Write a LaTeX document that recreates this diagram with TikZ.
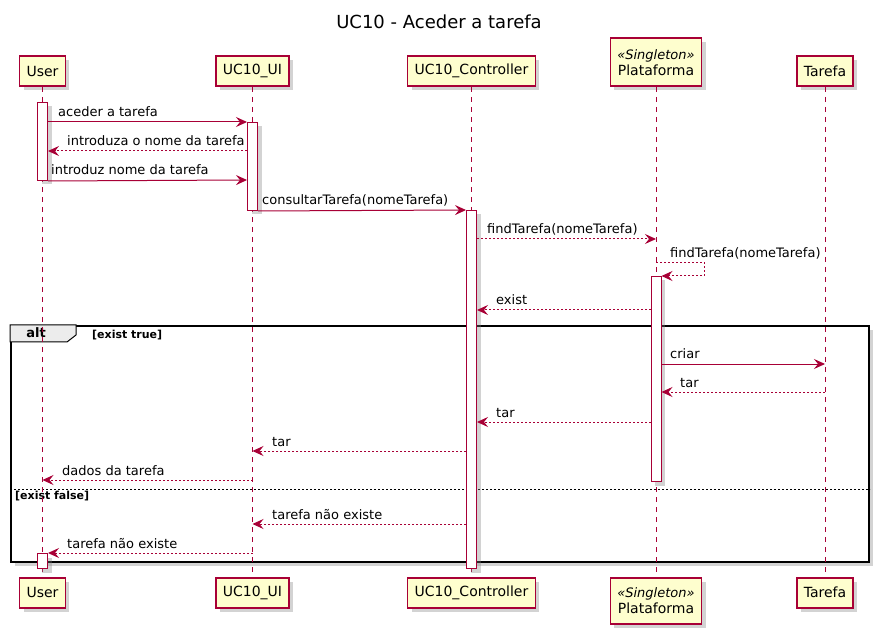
\documentclass[tikz,border=0pt]{standalone}
\usepackage{fontspec}
\setmainfont{DejaVu Sans}
\usepackage{xcolor}
\usetikzlibrary{arrows.meta,shadows}
\definecolor{umlred}{HTML}{A80036}
\definecolor{umlfill}{HTML}{FEFECE}

\begin{document}
\begin{tikzpicture}[x=1pt, y=-1pt,
    shade/.style={drop shadow={shadow xshift=4pt, shadow yshift=-4pt, opacity=0.35}},
    part/.style={rectangle, draw=umlred, line width=1.5pt, fill=umlfill, inner xsep=7pt, minimum height=30pt, font=\fontsize{14}{16}\selectfont, shade},
    act/.style={rectangle, draw=umlred, line width=1pt, fill=white, minimum width=10pt, inner sep=0pt, anchor=north, shade},
    life/.style={draw=umlred, line width=1pt, dash pattern=on 5pt off 5pt},
    msg/.style={draw=umlred, line width=1pt, -{Stealth[length=11pt, width=10pt, inset=4pt]}},
    ret/.style={msg, dash pattern=on 2pt off 2pt},
    lbl/.style={anchor=base west, inner sep=0pt, font=\fontsize{13}{15}\selectfont},
    guard/.style={anchor=base west, inner sep=0pt, font=\bfseries\fontsize{11}{13}\selectfont}
]
    \useasboundingbox (0,0) rectangle (881,636);
    \node[font=\fontsize{18}{20}\selectfont] (title) at (439,22) {UC10 - Aceder a tarefa};

    % alt frame
    \node[rectangle, draw=black, line width=2pt, fill=white, inner sep=0pt, minimum width=858pt, minimum height=236pt, anchor=north west, shade] (alt) at (10,325) {};
    \draw[line width=1pt, fill=gray!15] (alt.north west) -- ++(66,0) -- ++(0,10) -- ++(-9,7) -- ++(-57,0) -- cycle;
    \node[font=\bfseries\fontsize{13}{15}\selectfont] (altname) at (36,333) {alt};
    \node[guard] (g1) at (92,338) {[exist true]};
    \draw[line width=1pt, dash pattern=on 2pt off 2pt] (alt.west |- 0,489) -- (alt.east |- 0,489);
    \node[guard] (g2) at (15,499) {[exist false]};

    % participants
    \node[part, anchor=south] (user) at (42.5,87) {User};
    \node[part, anchor=south] (ui) at (252.5,87) {UC10\_UI};
    \node[part, anchor=south] (ctrl) at (471.5,87) {UC10\_Controller};
    \node[part, anchor=south, align=center, minimum height=48pt] (plat) at (656,87) {{\itshape\fontsize{13}{15}\selectfont «Singleton»}\\Plataforma};
    \node[part, anchor=south] (tar) at (825,87) {Tarefa};

    \node[part, anchor=north] (buser) at (42.5,577) {User};
    \node[part, anchor=north] (bui) at (252.5,577) {UC10\_UI};
    \node[part, anchor=north] (bctrl) at (471.5,577) {UC10\_Controller};
    \node[part, anchor=north, align=center, minimum height=46pt] (bplat) at (656,577) {{\itshape\fontsize{13}{15}\selectfont «Singleton»}\\Plataforma};
    \node[part, anchor=north] (btar) at (825,577) {Tarefa};

    \foreach \p in {user,ui,ctrl,plat,tar}
        \draw[life] (\p) -- (b\p);

    % activations
    \node[act, minimum height=78pt] (aU1) at (42.5,102) {};
    \node[act, minimum height=88pt] (aUI) at (252.5,122) {};
    \node[act, minimum height=358pt] (aC) at (471.5,210) {};
    \node[act, minimum height=205pt] (aP) at (656,276) {};
    \node[act, minimum height=15pt] (aU2) at (42.5,553) {};

    % messages
    \draw[msg] (aU1.east |- 0,122) -- (aUI.north west);
    \node[lbl] (l1) at (58,117) {aceder a tarefa};
    \draw[ret] (aUI.west |- 0,151) -- (aU1.east |- 0,151);
    \node[lbl] (l2) at (67,146) {introduza o nome da tarefa};
    \draw[msg] (aU1.south east) -- (aUI.west |- 0,180);
    \node[lbl] (l3) at (51,175) {introduz nome da tarefa};
    \draw[msg] (aUI.south east) -- (aC.north west);
    \node[lbl] (l4) at (262,205) {consultarTarefa(nomeTarefa)};
    \draw[ret] (aC.east |- 0,239) -- (plat |- 0,239);
    \node[lbl] (l5) at (487,234) {findTarefa(nomeTarefa)};
    \draw[ret] (plat |- 0,263) -| ([xshift=43pt]aP.north east) -- (aP.north east);
    \node[lbl] (l6) at (670,258) {findTarefa(nomeTarefa)};
    \draw[ret] (aP.west |- 0,310) -- (aC.east |- 0,310);
    \node[lbl] (l7) at (496,305) {exist};

    \draw[msg] (aP.east |- 0,364) -- (tar |- 0,364);
    \node[lbl] (l8) at (670,359) {criar};
    \draw[ret] (tar |- 0,392) -- (aP.east |- 0,392);
    \node[lbl] (l9) at (680,387) {tar};
    \draw[ret] (aP.west |- 0,422) -- (aC.east |- 0,422);
    \node[lbl] (l10) at (496,417) {tar};
    \draw[ret] (aC.west |- 0,451) -- (ui |- 0,451);
    \node[lbl] (l11) at (272,446) {tar};
    \draw[ret] (ui |- 0,480) -- (user |- 0,480);
    \node[lbl] (l12) at (62,475) {dados da tarefa};

    \draw[ret] (aC.west |- 0,524) -- (ui |- 0,524);
    \node[lbl] (l13) at (272,519) {tarefa não existe};
    \draw[ret] (ui |- 0,553) -- (aU2.north east);
    \node[lbl] (l14) at (67,548) {tarefa não existe};
\end{tikzpicture}
\end{document}
